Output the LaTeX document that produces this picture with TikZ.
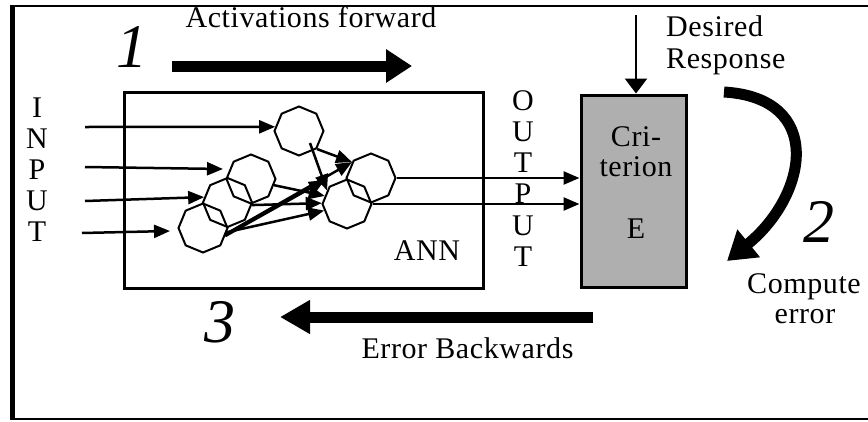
\documentclass[tikz,border=0pt]{standalone}
\usepackage{fontspec}
\setmainfont{Liberation Serif}[LetterSpace=2]
\usetikzlibrary{arrows.meta,shapes.geometric}
\definecolor{critgray}{RGB}{175,175,175}
\begin{document}
\begin{tikzpicture}[x=1pt,y=-1pt,
  lbl/.style={font=\fontsize{30}{31}\selectfont, inner sep=0pt},
  num/.style={font=\fontsize{62}{62}\selectfont\itshape, inner sep=0pt},
  neuron/.style={draw, regular polygon, regular polygon sides=8, shape border rotate=22.5,
    minimum size=49pt, inner sep=0pt, line width=2pt},
  sig/.style={line width=2.5pt, -{Triangle[length=16pt,width=13pt]}},
  fat/.style={line width=11pt, -{Triangle[length=26pt,width=32pt]}},
  boxline/.style={draw, line width=3pt, inner sep=0pt},
]
\useasboundingbox (0,0) rectangle (868,421);
% outer frame
\draw[line width=2pt] (868,6) -- (12,6) -- (12,419) -- (868,419);
\draw[line width=4.5pt] (12.5,5) -- (12.5,420);

% boxes
\node[boxline, minimum width=359pt, minimum height=196pt] (ann) at (303.5,190.5) {};
\node[boxline, fill=critgray, minimum width=105pt, minimum height=192pt] (crit) at (633.5,191) {};

% neurons
\node[neuron] (A) at (299,131) {};
\node[neuron] (B) at (251,179) {};
\node[neuron] (C) at (227.5,202.5) {};
\node[neuron] (D) at (203,228) {};
\node[neuron] (E) at (371,178) {};
\node[neuron] (F) at (347,204) {};

% input letters
\foreach \c [count=\i from 0] in {I,N,P,U,T}
  \node[lbl, anchor=base] (in\i) at (37,117+31.2*\i) {\c};
% output letters
\foreach \c [count=\i from 0] in {O,U,T,P,U,T}
  \node[lbl, anchor=base] (out\i) at (523,110+31.3*\i) {\c};

% input arrows
\coordinate (s1) at (85,127);
\coordinate (s2) at (85,167);
\coordinate (s3) at (85,201);
\coordinate (s4) at (82,233);
\coordinate (t2) at (223,169);
\coordinate (t4) at (170,231);
\draw[sig] (s1) -- (A.170);
\draw[sig] (s2) -- (t2);
\draw[sig] (s3) -- (C.167);
\draw[sig] (s4) -- (t4);

% internal connections
\coordinate (a2) at (310,143);
\coordinate (fm) at (325,180);
\draw[sig] (A.-45) -- (E.140);
\draw[sig] (a2) -- (F.146);
\draw[sig] (B.-15) -- (F.160);
\draw[sig] (C.-6) -- (F.178);
\draw[sig] (D.-10) -- (F.196);
\draw[sig] (D.-20) -- (fm);
\draw[sig] (D.-14) -- (E.140);

% outputs
\draw[sig] (E.east) -- (E.east -| crit.west);
\draw[sig] (F.east) -- (F.east -| crit.west);

% desired response
\coordinate (ds) at (636,15);
\draw[line width=2.5pt, -{Triangle[length=15pt,width=22pt]}] (ds) -- (ds |- crit.north);

% texts
\node[lbl, anchor=base] (act) at (311,27) {Activations forward};
\node[lbl, anchor=base west] (des1) at (666,36.7) {Desired};
\node[lbl, anchor=base west] (des2) at (666,68.3) {Response};
\node[lbl, anchor=base] (cr1) at (636,146.7) {Cri-};
\node[lbl, anchor=base] (cr2) at (636,176.7) {terion};
\node[lbl, anchor=base] (crE) at (636,238) {E};
\node[lbl, anchor=base] (annl) at (427,260) {ANN};
\node[lbl, anchor=base] (ce1) at (804,293) {Compute};
\node[lbl, anchor=base] (ce2) at (805,323) {error};
\node[lbl, anchor=base] (eb) at (467.5,358) {Error Backwards};
\node[num, anchor=base] (n1) at (132,67) {1};
\node[num, anchor=base] (n2) at (819,242) {2};
\node[num, anchor=base] (n3) at (219.5,342) {3};

% big arrows
\coordinate (af0) at (172,66);
\coordinate (af1) at (412,66);
\draw[fat] (af0) -- (af1);
\coordinate (eb0) at (593,317);
\coordinate (eb1) at (280,317);
\draw[line width=11pt, -{Triangle[length=30pt,width=32pt]}] (eb0) -- (eb1);
\coordinate (c0) at (724,92);
\coordinate (c1) at (727,261);
\draw[line width=11pt, -{Triangle[length=28pt,width=34pt]}] (c0) .. controls (825,98) and (808,195) .. (c1);
\end{tikzpicture}
\end{document}
